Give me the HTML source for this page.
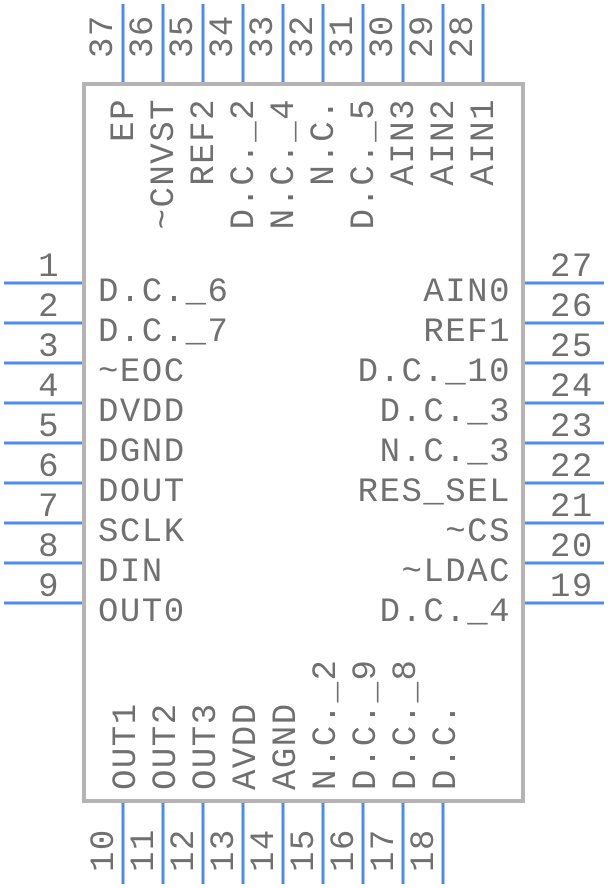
<!DOCTYPE html>
<html><head><meta charset="utf-8"><style>
html,body{margin:0;padding:0;background:#fff;}
svg{display:block;}
text{font-family:"Liberation Mono",monospace;font-size:34px;fill:#707070;letter-spacing:1.5px;}
</style></head><body>
<svg width="608" height="888" viewBox="0 0 608 888" xmlns="http://www.w3.org/2000/svg">
<rect x="84" y="84" width="439" height="717" fill="none" stroke="#b4b4b4" stroke-width="4"/>
<g stroke="#4a8cf0" stroke-width="3">
<line x1="4" y1="283" x2="82" y2="283"/><line x1="4" y1="323" x2="82" y2="323"/><line x1="4" y1="363" x2="82" y2="363"/>
<line x1="4" y1="403" x2="82" y2="403"/><line x1="4" y1="443" x2="82" y2="443"/><line x1="4" y1="483" x2="82" y2="483"/>
<line x1="4" y1="523" x2="82" y2="523"/><line x1="4" y1="563" x2="82" y2="563"/><line x1="4" y1="603" x2="82" y2="603"/>
<line x1="525" y1="283" x2="604" y2="283"/><line x1="525" y1="323" x2="604" y2="323"/><line x1="525" y1="363" x2="604" y2="363"/>
<line x1="525" y1="403" x2="604" y2="403"/><line x1="525" y1="443" x2="604" y2="443"/><line x1="525" y1="483" x2="604" y2="483"/>
<line x1="525" y1="523" x2="604" y2="523"/><line x1="525" y1="563" x2="604" y2="563"/><line x1="525" y1="603" x2="604" y2="603"/>
<line x1="123" y1="4" x2="123" y2="82"/><line x1="163" y1="4" x2="163" y2="82"/><line x1="203" y1="4" x2="203" y2="82"/>
<line x1="243" y1="4" x2="243" y2="82"/><line x1="283" y1="4" x2="283" y2="82"/><line x1="323" y1="4" x2="323" y2="82"/>
<line x1="363" y1="4" x2="363" y2="82"/><line x1="403" y1="4" x2="403" y2="82"/><line x1="443" y1="4" x2="443" y2="82"/>
<line x1="483" y1="4" x2="483" y2="82"/>
<line x1="123" y1="803" x2="123" y2="884"/><line x1="163" y1="803" x2="163" y2="884"/><line x1="203" y1="803" x2="203" y2="884"/>
<line x1="243" y1="803" x2="243" y2="884"/><line x1="283" y1="803" x2="283" y2="884"/><line x1="323" y1="803" x2="323" y2="884"/>
<line x1="363" y1="803" x2="363" y2="884"/><line x1="403" y1="803" x2="403" y2="884"/><line x1="443" y1="803" x2="443" y2="884"/>
</g>
<!-- left -->
<g text-anchor="end">
<text x="60" y="276">1</text><text x="60" y="316">2</text><text x="60" y="356">3</text><text x="60" y="396">4</text>
<text x="60" y="436">5</text><text x="60" y="476">6</text><text x="60" y="516">7</text><text x="60" y="556">8</text><text x="60" y="596">9</text>
</g>
<g>
<text x="98" y="301">D.C._6</text><text x="98" y="341">D.C._7</text><text x="98" y="381">~EOC</text>
<text x="98" y="421">DVDD</text><text x="98" y="461">DGND</text><text x="98" y="501">DOUT</text>
<text x="98" y="541">SCLK</text><text x="98" y="581">DIN</text><text x="98" y="621">OUT0</text>
</g>
<!-- right -->
<g>
<text x="550" y="276">27</text><text x="550" y="316">26</text><text x="550" y="356">25</text><text x="550" y="396">24</text>
<text x="550" y="436">23</text><text x="550" y="476">22</text><text x="550" y="516">21</text><text x="550" y="556">20</text><text x="550" y="596">19</text>
</g>
<g text-anchor="end">
<text x="511" y="301">AIN0</text><text x="511" y="341">REF1</text><text x="511" y="381">D.C._10</text>
<text x="511" y="421">D.C._3</text><text x="511" y="461">N.C._3</text><text x="511" y="501">RES_SEL</text>
<text x="511" y="541">~CS</text><text x="511" y="581">~LDAC</text><text x="511" y="621">D.C._4</text>
</g>
<!-- top numbers -->
<g>
<text transform="translate(112,58) rotate(-90)">37</text><text transform="translate(152,58) rotate(-90)">36</text>
<text transform="translate(192,58) rotate(-90)">35</text><text transform="translate(232,58) rotate(-90)">34</text>
<text transform="translate(272,58) rotate(-90)">33</text><text transform="translate(312,58) rotate(-90)">32</text>
<text transform="translate(352,58) rotate(-90)">31</text><text transform="translate(392,58) rotate(-90)">30</text>
<text transform="translate(432,58) rotate(-90)">29</text><text transform="translate(472,58) rotate(-90)">28</text>
</g>
<!-- top labels -->
<g text-anchor="end">
<text transform="translate(133,98) rotate(-90)">EP</text><text transform="translate(173,98) rotate(-90)">~CNVST</text>
<text transform="translate(213,98) rotate(-90)">REF2</text><text transform="translate(253,98) rotate(-90)">D.C._2</text>
<text transform="translate(293,98) rotate(-90)">N.C._4</text><text transform="translate(333,98) rotate(-90)">N.C.</text>
<text transform="translate(373,98) rotate(-90)">D.C._5</text><text transform="translate(413,98) rotate(-90)">AIN3</text>
<text transform="translate(453,98) rotate(-90)">AIN2</text><text transform="translate(493,98) rotate(-90)">AIN1</text>
</g>
<!-- bottom labels -->
<g>
<text transform="translate(135,790) rotate(-90)">OUT1</text><text transform="translate(175,790) rotate(-90)">OUT2</text>
<text transform="translate(215,790) rotate(-90)">OUT3</text><text transform="translate(255,790) rotate(-90)">AVDD</text>
<text transform="translate(295,790) rotate(-90)">AGND</text><text transform="translate(335,790) rotate(-90)">N.C._2</text>
<text transform="translate(375,790) rotate(-90)">D.C._9</text><text transform="translate(415,790) rotate(-90)">D.C._8</text>
<text transform="translate(455,790) rotate(-90)">D.C.</text>
</g>
<!-- bottom numbers -->
<g>
<text transform="translate(113,872) rotate(-90)">10</text><text transform="translate(153,872) rotate(-90)">11</text>
<text transform="translate(193,872) rotate(-90)">12</text><text transform="translate(233,872) rotate(-90)">13</text>
<text transform="translate(273,872) rotate(-90)">14</text><text transform="translate(313,872) rotate(-90)">15</text>
<text transform="translate(353,872) rotate(-90)">16</text><text transform="translate(393,872) rotate(-90)">17</text>
<text transform="translate(433,872) rotate(-90)">18</text>
</g>
</svg>
</body></html>
